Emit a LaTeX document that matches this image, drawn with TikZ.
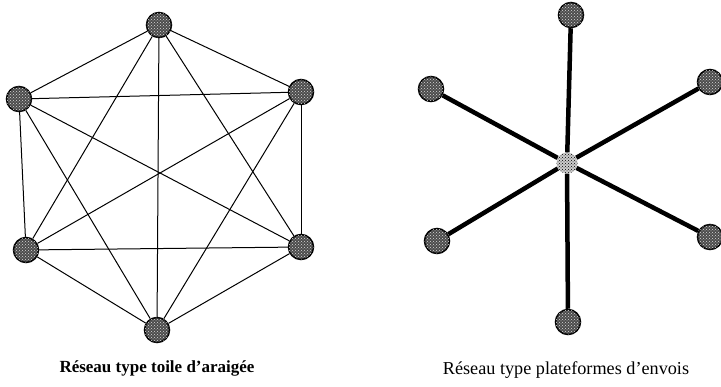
\documentclass[tikz,border=0pt]{standalone}
\usepackage{fontspec}
\setmainfont{Liberation Serif}
\usetikzlibrary{patterns}
\begin{document}
\begin{tikzpicture}[x=1pt,y=-1pt,
  site/.style={circle,draw=black,line width=1.5pt,fill=black!70,
    postaction={pattern=crosshatch dots,pattern color=white!85!black},
    minimum size=25pt,inner sep=0pt},
  hub/.style={circle,fill=gray!40,draw=none,
    postaction={pattern=crosshatch dots,pattern color=black},
    minimum size=21pt,inner sep=0pt},
  web/.style={line width=1pt},
  spoke/.style={line width=4.5pt},
  captext/.style={font=\fontsize{18.2}{20}\selectfont}]
\useasboundingbox (0,0) rectangle (721,387);
% left: spider web
\node[site] (a1) at (159,25) {};
\node[site] (a2) at (19,99) {};
\node[site] (a3) at (301,92) {};
\node[site] (a4) at (26,250) {};
\node[site] (a5) at (301,247) {};
\node[site] (a6) at (157,330) {};
\foreach \u/\v in {a1/a2,a1/a3,a1/a4,a1/a5,a1/a6,a2/a3,a2/a4,a2/a5,a2/a6,a3/a4,a3/a5,a3/a6,a4/a5,a4/a6,a5/a6}
  \draw[web] (\u) -- (\v);
\node[font=\bfseries\fontsize{17}{19}\selectfont] (t1) at (157,368) {Réseau type toile d’araigée};
% right: star
\node[hub] (c) at (567,163) {};
\node[site] (b1) at (571,15) {};
\node[site] (b2) at (431,89) {};
\node[site] (b3) at (710,82) {};
\node[site] (b4) at (437,241) {};
\node[site] (b5) at (710,237) {};
\node[site] (b6) at (568,322) {};
\foreach \v in {b1,b2,b3,b4,b5,b6}
  \draw[spoke] (c) -- (\v);
\node[captext] (t2) at (566,370) {Réseau type plateformes d’envois};
\end{tikzpicture}
\end{document}
